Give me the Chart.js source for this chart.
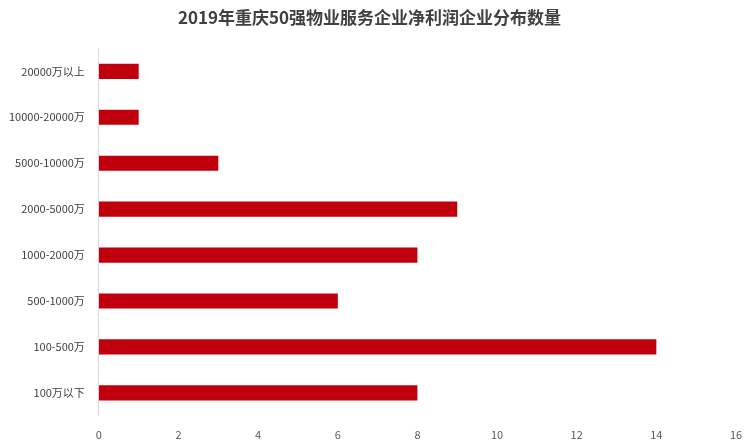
<!DOCTYPE html>
<html><head><meta charset="utf-8">
<script src="https://cdn.jsdelivr.net/npm/chart.js@4/dist/chart.umd.min.js"></script>
<style>html,body{margin:0;padding:0;background:#fff}#w{width:752px;height:445px}</style>
</head><body><div id="w"><canvas id="c"></canvas></div>
<script>
const categories = ["20000万以上","10000-20000万","5000-10000万","2000-5000万","1000-2000万","500-1000万","100-500万","100万以下"];
const counts = [1,1,3,9,8,6,14,8];
const xTicks = [0,2,4,6,8,10,12,14,16];
const font = "'Noto Sans CJK SC', 'Noto Sans', sans-serif";
new Chart(document.getElementById('c'), {
  type: 'bar',
  data: { labels: categories, datasets: [{ data: counts, backgroundColor: '#c0000c', barPercentage: 0.33, categoryPercentage: 1 }] },
  options: {
    indexAxis: 'y', responsive: true, maintainAspectRatio: false, animation: false,
    layout: { padding: { left: 3, right: 16, top: 0, bottom: 0 } },
    plugins: { legend: { display: false }, tooltip: { enabled: false },
      title: { display: true, text: '2019年重庆50强物业服务企业净利润企业分布数量', color: '#404040',
        font: { family: font, size: 17, weight: 'bold' }, padding: { top: 7, bottom: 21 } } },
    scales: {
      x: { min: 0, max: 16, afterBuildTicks: a => { a.ticks = xTicks.map(v => ({ value: v })); },
        grid: { display: false }, border: { display: false },
        ticks: { color: '#595959', font: { family: font, size: 11 }, padding: 4 } },
      y: { grid: { display: false }, border: { display: true, color: '#d9d9d9' },
        ticks: { color: '#404040', font: { family: font, size: 11 }, padding: 6 } }
    }
  }
});
</script></body></html>
